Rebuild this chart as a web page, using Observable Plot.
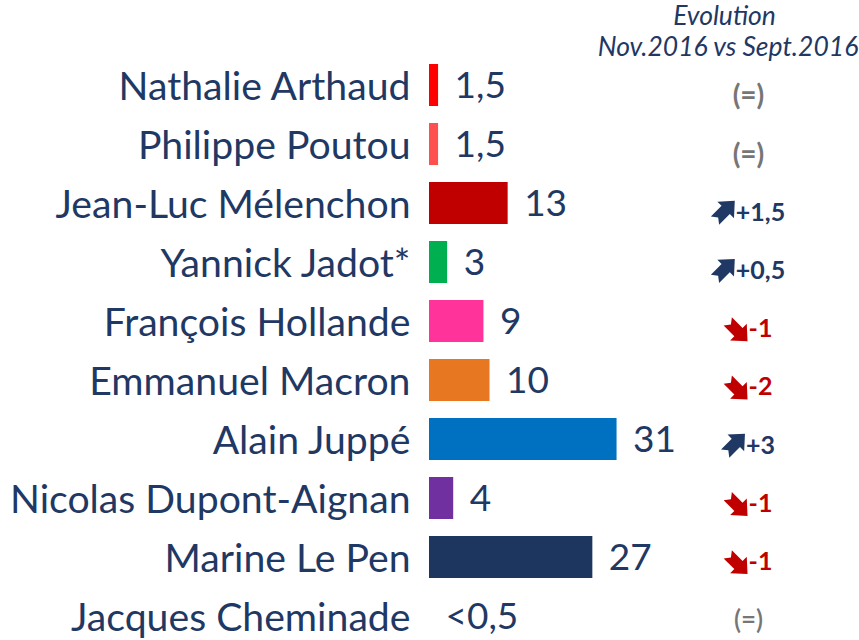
<!DOCTYPE html>
<html>
<head>
<meta charset="utf-8">
<script src="https://cdn.jsdelivr.net/npm/d3@7"></script>
<script src="https://cdn.jsdelivr.net/npm/@observablehq/plot@0.6"></script>
<style>
  html, body { margin: 0; padding: 0; background: #fff; }
</style>
</head>
<body>
<div id="chart"></div>
<script>
const candidates = ["Nathalie Arthaud","Philippe Poutou","Jean-Luc Mélenchon","Yannick Jadot*","François Hollande","Emmanuel Macron","Alain Juppé","Nicolas Dupont-Aignan","Marine Le Pen","Jacques Cheminade"];
const values = [1.5, 1.5, 13, 3, 9, 10, 31, 4, 27, 0];
const valueLabels = ["1,5","1,5","13","3","9","10","31","4","27","<0,5"];
const evolutions = ["(=)","(=)","+1,5","+0,5","-1","-2","+3","-1","-1","(=)"];
const barColors = ["#FF0000","#FF5050","#C00000","#00B050","#FF3399","#E87722","#0070C0","#7030A0","#1D3660","#FFFFFF"];
const headerLines = ["Evolution", "Nov.2016 vs Sept.2016"];

const navy = "#1F3864";
const red = "#C00000";
const gray = "#767676";
const font = "Lato, 'Open Sans', sans-serif";

// x scale parameters
const x0 = 429, pxPerUnit = 6.05;
const pxToX = px => (px - x0) / pxPerUnit;

// y band layout
const yRange = [61, 639], yPad = 0.29;
const bandwidth = (yRange[1] - yRange[0]) / (candidates.length - yPad) * (1 - yPad);

// the evolution column has its own (slightly tighter) row layout;
// marks on a band y scale add half a bandwidth, so compensate
const evoRow = d3.scaleLinear().domain([0, candidates.length - 1]).range([96, 620]);

// text measurement for centering the evolution column
const ctx = document.createElement("canvas").getContext("2d");
const evoFontSize = 25;
ctx.font = `bold ${evoFontSize}px Lato`;
const evoCenter = 748, arrowW = 22, arrowGap = 2;

const data = candidates.map((c, i) => {
  const e = evolutions[i];
  const dir = e.startsWith("+") ? "up" : e.startsWith("-") ? "down" : "eq";
  const tw = ctx.measureText(e).width;
  const total = dir === "eq" ? tw : arrowW + arrowGap + tw;
  const left = evoCenter - total / 2;
  return {
    name: c, value: values[i], label: valueLabels[i], evo: e, dir, color: barColors[i],
    evoY: evoRow(i) - bandwidth / 2,
    arrowX: pxToX(left + arrowW / 2),
    evoX: pxToX(dir === "eq" ? evoCenter : left + arrowW + arrowGap)
  };
});

// thick notched arrow symbol (Wingdings-like), drawn in pixel units
function arrowSymbol(angleDeg) {
  const pts = [[0,-13],[10.5,-1.5],[5.2,-1.5],[5.2,12],[0,8],[-5.2,12],[-5.2,-1.5],[-10.5,-1.5]];
  const a = angleDeg * Math.PI / 180, c = Math.cos(a), s = Math.sin(a), k = 1.12;
  const rot = pts.map(([x, y]) => [k * (x * c - y * s), k * (x * s + y * c)]);
  const xs = rot.map(p => p[0]), ys = rot.map(p => p[1]);
  const cx = (Math.min(...xs) + Math.max(...xs)) / 2, cy = (Math.min(...ys) + Math.max(...ys)) / 2;
  return {
    draw(context) {
      rot.forEach(([x, y], i) => i ? context.lineTo(x - cx, y - cy) : context.moveTo(x - cx, y - cy));
      context.closePath();
    }
  };
}
const upArrow = arrowSymbol(45);
const downArrow = arrowSymbol(135);

const evoY = {value: "evoY", scale: null};
const eqMain = data.filter(d => d.dir === "eq" && d.name !== "Jacques Cheminade");
const eqLast = data.filter(d => d.dir === "eq" && d.name === "Jacques Cheminade");

const chart = Plot.plot({
  width: 859,
  height: 640,
  marginTop: 0, marginRight: 0, marginBottom: 0, marginLeft: 0,
  x: {domain: [0, 70], range: [x0, x0 + 70 * pxPerUnit], axis: null},
  y: {domain: candidates, range: yRange, paddingInner: yPad, paddingOuter: 0, axis: null},
  marks: [
    Plot.barX(data.filter(d => d.value > 0), {x: "value", y: "name", fill: "color"}),
    Plot.text(data, {x: 0, y: "name", text: "name", textAnchor: "end", dx: -19, dy: 2,
      fill: navy, fontSize: 39.2, fontFamily: font}),
    Plot.text(data, {x: "value", y: "name", text: "label", textAnchor: "start", dx: 16, dy: 1,
      fill: navy, fontSize: 37, fontFamily: font}),
    Plot.dot(data.filter(d => d.dir === "up"), {x: "arrowX", y: evoY, r: 10, symbol: upArrow, fill: navy, stroke: "none"}),
    Plot.dot(data.filter(d => d.dir === "down"), {x: "arrowX", y: evoY, r: 10, symbol: downArrow, fill: red, stroke: "none"}),
    Plot.text(data.filter(d => d.dir !== "eq"), {x: "evoX", y: evoY, text: "evo", textAnchor: "start",
      fill: d => d.dir === "up" ? navy : red, fontSize: evoFontSize, fontWeight: "bold", fontFamily: font}),
    Plot.text(eqMain, {x: "evoX", y: evoY, text: "evo", textAnchor: "middle",
      fill: gray, fontSize: 28, fontWeight: "bold", fontFamily: font}),
    Plot.text(eqLast, {x: "evoX", y: evoY, text: "evo", textAnchor: "middle",
      fill: gray, fontSize: 26, fontWeight: 600, fontFamily: font}),
    Plot.text([headerLines[0]], {frameAnchor: "top", lineAnchor: "middle", dx: 294.5, dy: 16, text: d => d,
      fill: navy, fontSize: 26.5, fontStyle: "italic", fontFamily: font}),
    Plot.text([headerLines[1]], {frameAnchor: "top", lineAnchor: "middle", dx: 298, dy: 47, text: d => d,
      fill: navy, fontSize: 26.5, fontStyle: "italic", fontFamily: font})
  ]
});
document.getElementById("chart").appendChild(chart);
</script>
</body>
</html>
